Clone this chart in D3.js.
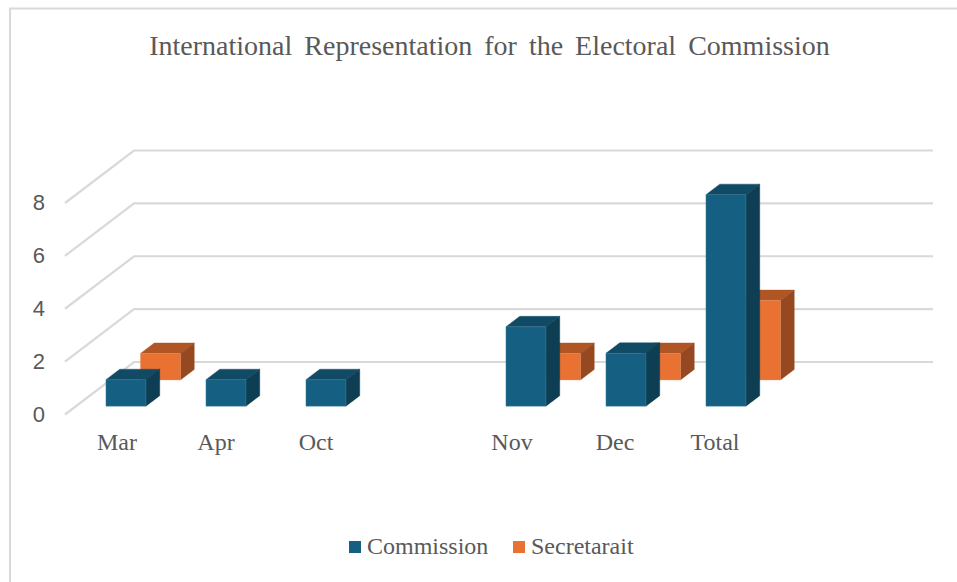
<!DOCTYPE html>
<html>
<head>
<meta charset="utf-8">
<script src="https://cdn.jsdelivr.net/npm/d3@7/dist/d3.min.js"></script>
<style>
  html, body { margin: 0; padding: 0; background: #fff; }
  svg { display: block; }
  text { fill: #595959; }
</style>
</head>
<body>
<svg id="chart" width="957" height="582"></svg>
<script>
// Blank entries are empty slots on the category axis.
const categories = ["Mar", "Apr", "Oct", " ", "Nov", "Dec", "Total", ""];
const commission = [1, 1, 1, null, 3, 2, 8, null];
const secretariat = [1, null, null, null, 1, 1, 3, null];
const seriesNames = ["Commission", "Secretarait"];
const yTicks = [0, 2, 4, 6, 8];
const titleText = "International Representation for the Electoral Commission";

const palette = {
  Commission: { front: "#156082", top: "#104a64", side: "#0d3e54", edge: "#3f7f9a" },
  Secretarait: { front: "#e97132", top: "#b05524", side: "#964820", edge: "#ef9362" }
};

const svg = d3.select("#chart");

// Oblique projection: the floor recedes up and to the right.
const depthX = 69, depthY = 52.5;
const floorY = 414, topY = 202.5;
const project = (x, y, z) => [x + z * depthX / depthY, y - z];

const x = d3.scaleBand().domain(categories).range([65.6, 865.6]).paddingInner(0.6).paddingOuter(0.3);
const xAxisScale = d3.scaleBand().domain(categories).range([65, 865]);
const y = d3.scaleLinear().domain([0, 8]).range([floorY, topY]);
const z = d3.scaleBand().domain(seriesNames).range([0, depthY]).paddingInner(0.6).paddingOuter(0.3);

// Chart frame: only the top and left edges fall inside the canvas.
svg.append("path")
  .attr("d", "M10,582V8.5H957")
  .attr("fill", "none")
  .attr("stroke", "#d9d9d9")
  .attr("stroke-width", 2);

// Gridlines run along the side wall and then across the back wall.
const gridEnd = 933;
svg.append("g").attr("transform", "translate(0,0.5)").selectAll("path")
  .data(yTicks)
  .join("path")
  .attr("d", d => {
    const back = project(65, y(d), depthY);
    return `M65,${y(d)}L${back[0]},${back[1]}H${gridEnd}`;
  })
  .attr("fill", "none")
  .attr("stroke", "#d9d9d9")
  .attr("stroke-width", 2.2);

// Each bar is drawn as three polygons: top, side, front.
function barFaces(name, values) {
  return categories.flatMap((c, i) => {
    const v = values[i];
    if (v == null) return [];
    const x0 = x(c), x1 = x0 + x.bandwidth();
    const z0 = z(name), z1 = z0 + z.bandwidth();
    const yb = y(0), yt = y(v);
    const poly = pts => pts.map(p => project(p[0], p[1], p[2]).join(",")).join(" ");
    return [
      { face: "top", points: poly([[x0, yt, z0], [x1, yt, z0], [x1, yt, z1], [x0, yt, z1]]) },
      { face: "side", points: poly([[x1, yt, z0], [x1, yb, z0], [x1, yb, z1], [x1, yt, z1]]) },
      { face: "front", points: poly([[x0, yt, z0], [x1, yt, z0], [x1, yb, z0], [x0, yb, z0]]) }
    ];
  });
}

// The rear series goes down first so the front series overlaps it.
[["Secretarait", secretariat], ["Commission", commission]].forEach(([name, values]) => {
  svg.append("g").selectAll("polygon")
    .data(barFaces(name, values))
    .join("polygon")
    .attr("points", d => d.points)
    .attr("fill", d => palette[name][d.face])
    .attr("stroke", d => d.face === "front" ? palette[name].edge : palette[name][d.face])
    .attr("stroke-width", 0.4);
});

// Value axis
const yAxis = svg.append("g")
  .attr("transform", "translate(52,0.6)")
  .call(d3.axisLeft(y).tickValues(yTicks).tickSize(0).tickPadding(7));
yAxis.select(".domain").remove();
yAxis.selectAll("text")
  .attr("font-family", "'Liberation Sans', Arial, sans-serif")
  .attr("font-size", 22)
  .attr("dy", "0.3em");

// Category axis; a few labels sit slightly left of their slot centre.
const labelShift = [2, 1, 1, 0, -3, 0, 0, 0];
const xAxis = svg.append("g")
  .attr("transform", "translate(0,433)")
  .call(d3.axisBottom(xAxisScale).tickSize(0).tickPadding(0));
xAxis.select(".domain").remove();
xAxis.selectAll("text")
  .attr("font-family", "'Liberation Serif', 'Times New Roman', serif")
  .attr("font-size", 24)
  .attr("dx", (d, i) => labelShift[i])
  .attr("dy", "0.71em");

// Title
svg.append("text")
  .attr("x", 489.5)
  .attr("y", 55)
  .attr("text-anchor", "middle")
  .attr("font-family", "'Liberation Serif', 'Times New Roman', serif")
  .attr("font-size", 28)
  .attr("word-spacing", 5)
  .text(titleText);

// Legend
const legendPos = [349, 513];
const legend = svg.append("g").selectAll("g")
  .data(seriesNames)
  .join("g")
  .attr("transform", (d, i) => `translate(${legendPos[i]},541)`);
legend.append("rect")
  .attr("width", 12)
  .attr("height", 12)
  .attr("fill", d => palette[d].front);
legend.append("text")
  .attr("x", 18)
  .attr("y", 13)
  .attr("font-family", "'Liberation Serif', 'Times New Roman', serif")
  .attr("font-size", 24)
  .text(d => d);
</script>
</body>
</html>
